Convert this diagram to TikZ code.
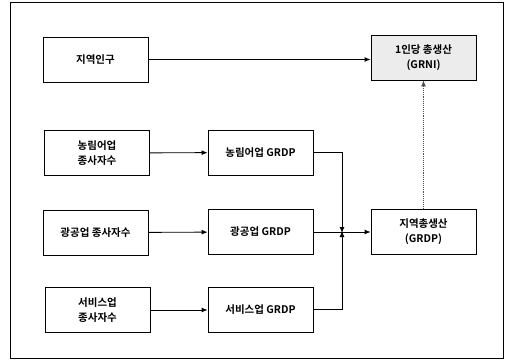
\documentclass[tikz,border=0pt]{standalone}
\usepackage{fontspec}
\newfontfamily\kr{Noto Sans CJK KR}[BoldFont={Noto Sans CJK KR Bold}]
\usetikzlibrary{arrows.meta}
\begin{document}
\begin{tikzpicture}[x=1pt,y=-1pt,
  box/.style={draw=black,line width=0.9pt,minimum width=105pt,minimum height=45pt,align=center,font=\kr\bfseries\fontsize{10.5}{15}\selectfont,inner sep=1pt},
  conn/.style={line width=0.9pt,-{Latex[length=6pt,width=5pt]}},
  plain/.style={line width=0.9pt}]
\useasboundingbox (0,0) rectangle (507,361);
\draw[line width=1pt] (10,3) rectangle (503,358);
\node[box] (pop) at (95.5,59.5) {지역인구};
\node[box,fill=gray!15] (grni) at (423.5,57.5) {1인당 총생산\\(GRNI)};
\node[box] (agw) at (97,153) {농림어업\\종사자수};
\node[box] (agg) at (260.5,152.5) {농림어업 GRDP};
\node[box] (minw) at (95.5,232.5) {광공업 종사자수};
\node[box] (ming) at (260.5,232) {광공업 GRDP};
\node[box] (grdp) at (423.5,231.5) {지역총생산\\(GRDP)};
\node[box] (svw) at (97.5,310) {서비스업\\종사자수};
\node[box] (svg) at (260.5,309.5) {서비스업 GRDP};
\coordinate (j) at (342,232);
\draw[conn] (pop) -- (pop -| grni.west);
\draw[conn] (agw) -- (agg);
\draw[conn] (minw) -- (ming);
\draw[conn] (svw.east) -- (svw.east -| svg.west);
\draw[conn] (ming.east) -- (ming.east -| grdp.west);
\draw[conn] (agg.east) -| ([yshift=-1pt]j);
\draw[conn] (svg.east) -| ([yshift=1pt]j);
\draw[conn,densely dotted,draw=black!70] (grdp.north) -- (grni.south);
\end{tikzpicture}
\end{document}
